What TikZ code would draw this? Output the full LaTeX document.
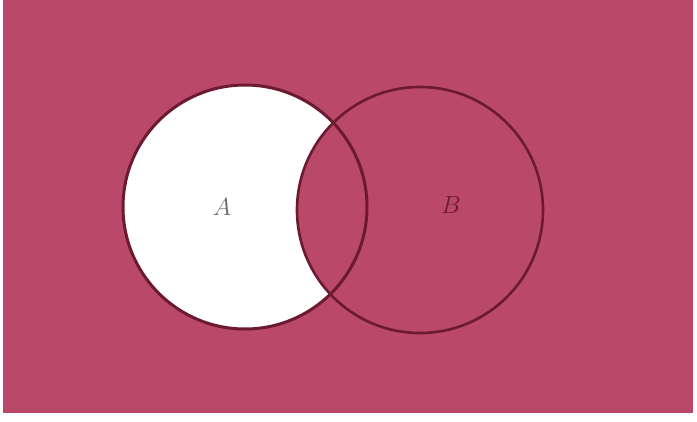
\documentclass[tikz,border=0pt]{standalone}
\usepackage{tikz}
\definecolor{venn}{RGB}{186,72,104}
\definecolor{vennline}{RGB}{108,26,50}
\definecolor{labgray}{RGB}{110,106,118}

\begin{document}
\begin{tikzpicture}[
    x=1pt, y=-1pt,
    ring/.style={draw=vennline, line width=3pt},
    setlabel/.style={font=\fontsize{24}{28}\selectfont}
]
\useasboundingbox (0,0) rectangle (697,421);

% background (universal set)
\fill[venn] (3,0) rectangle (693,413);

\coordinate (ca) at (245,207);
\coordinate (cb) at (420,210);

% A minus B stays white
\fill[white] (ca) circle (122pt);
\fill[venn] (cb) circle (123pt);

\draw[ring] (ca) circle (122pt);
\draw[ring, line width=2.6pt] (cb) circle (123pt);

\node[setlabel, text=labgray] (labA) at (222,207) {$A$};
\node[setlabel, text=vennline] (labB) at (451,205) {$B$};

\end{tikzpicture}
\end{document}
